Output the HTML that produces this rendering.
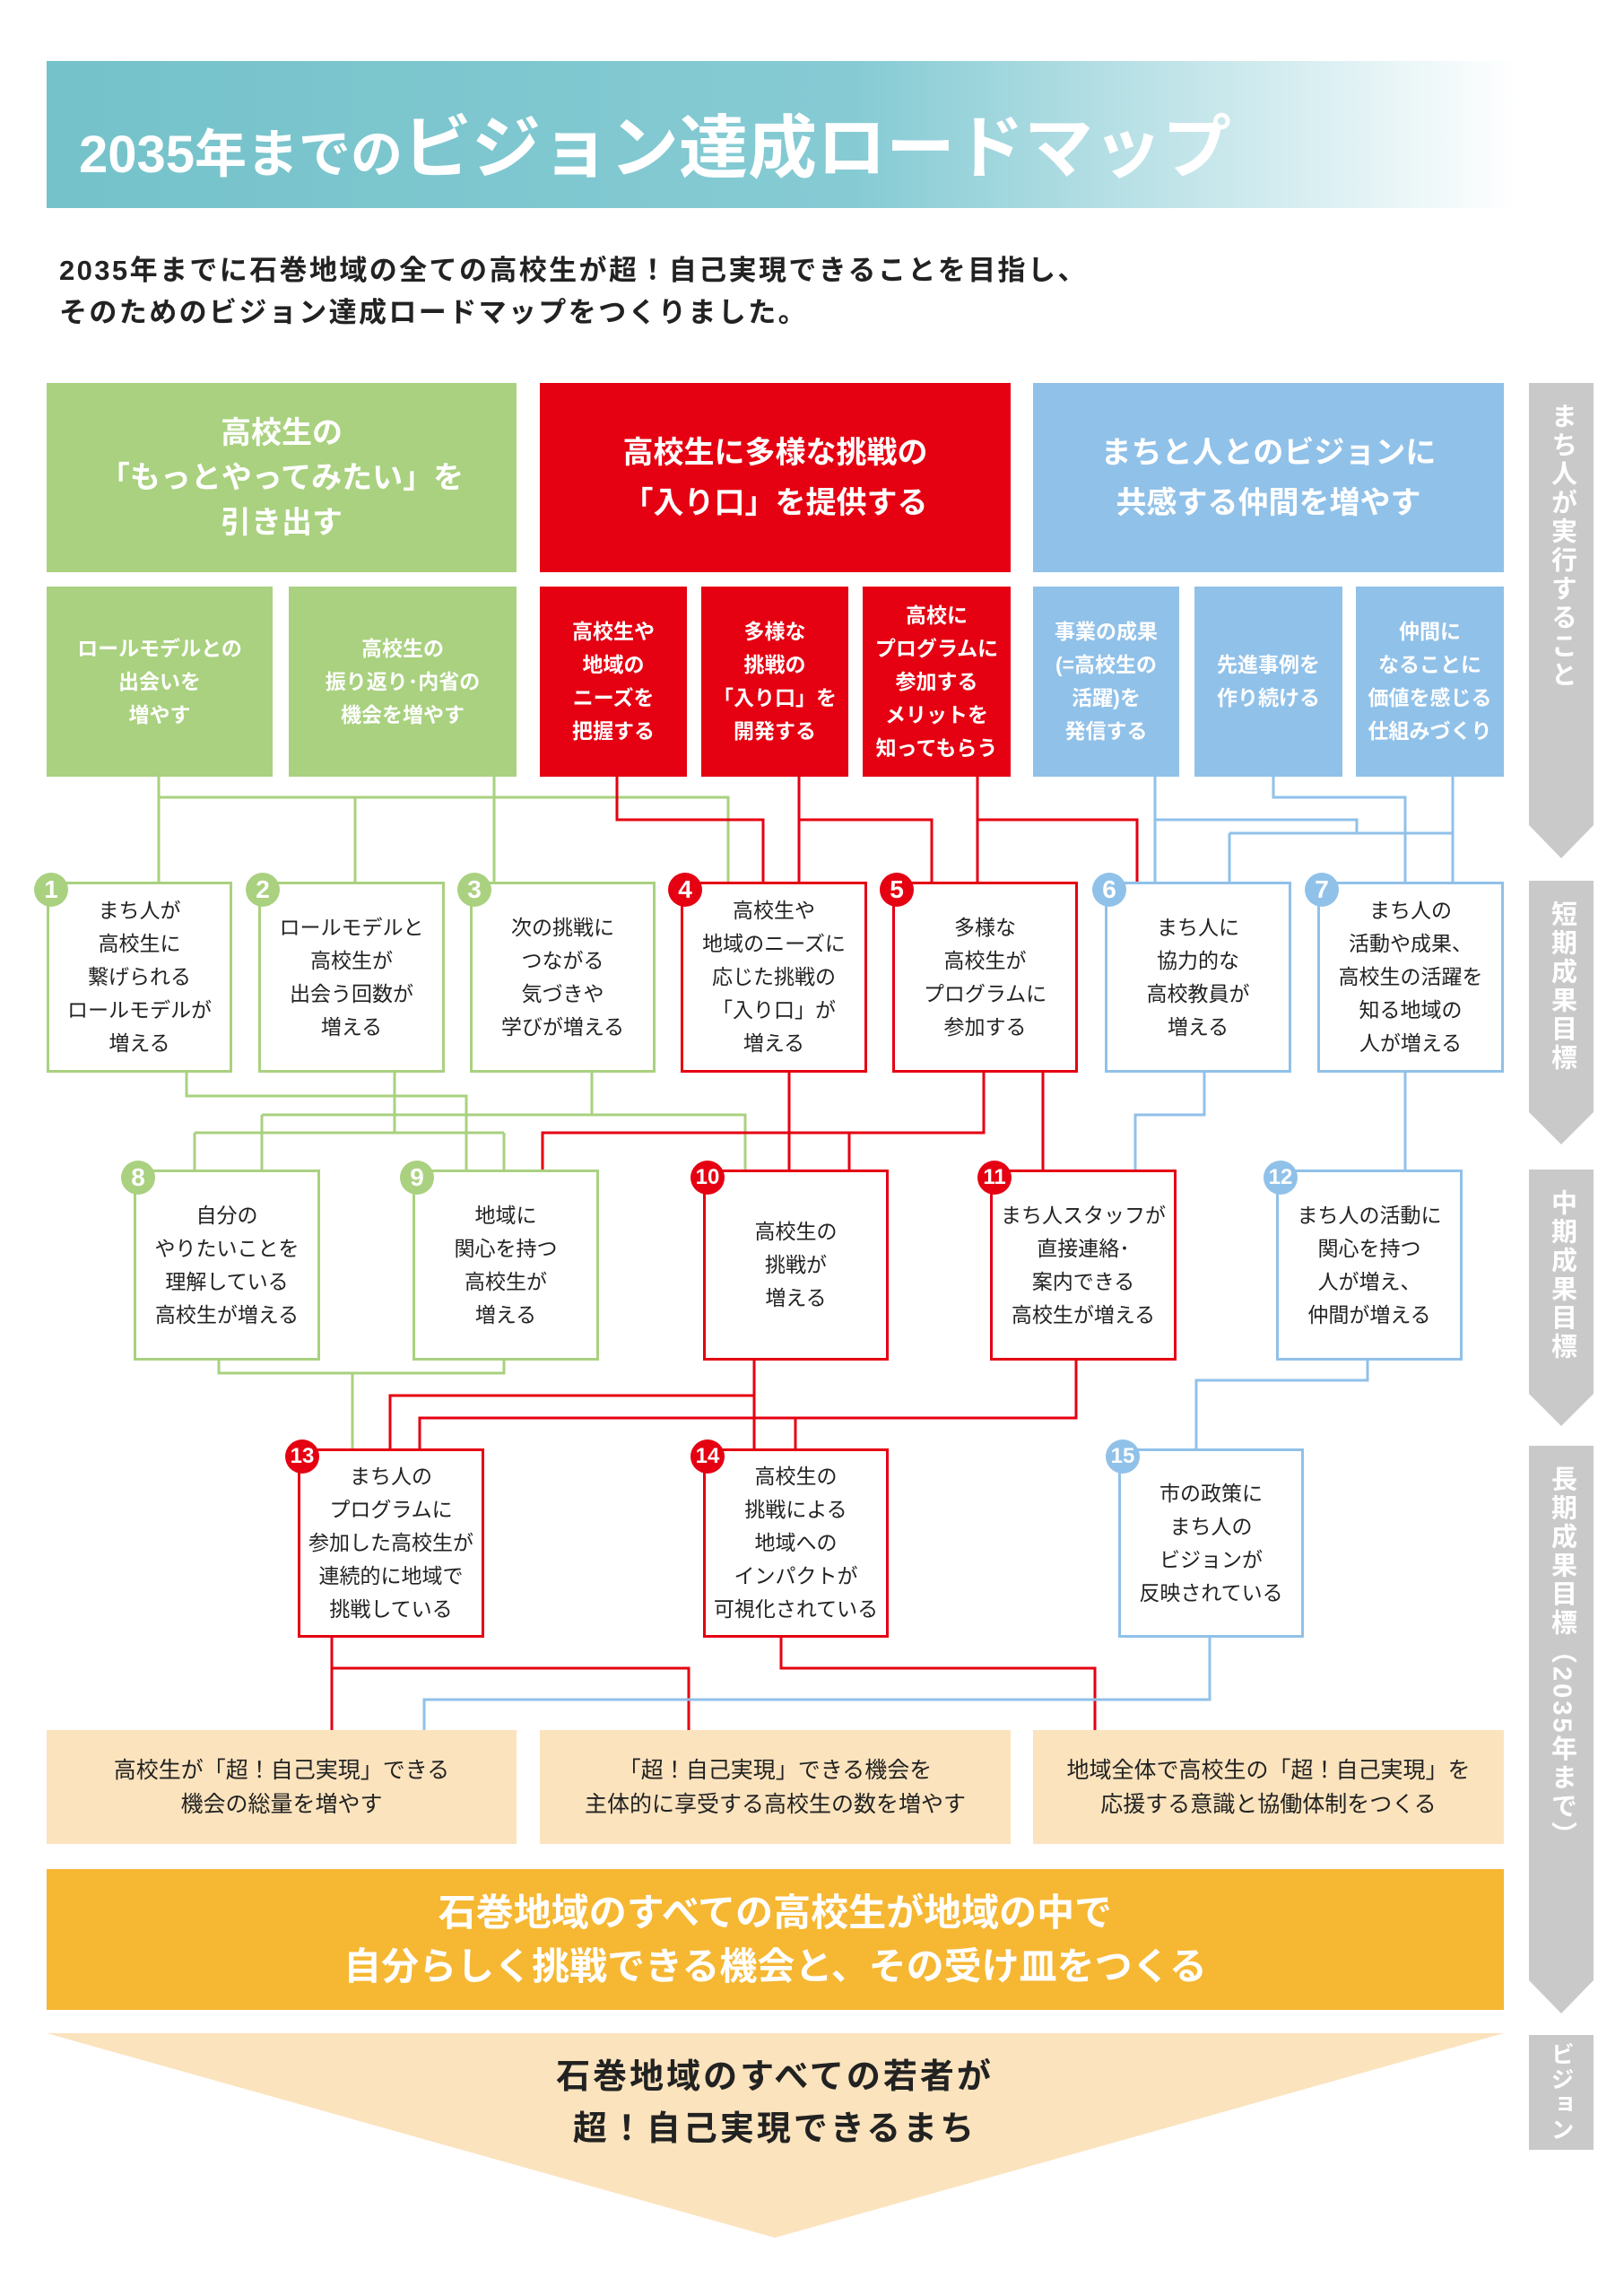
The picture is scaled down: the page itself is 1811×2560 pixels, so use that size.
<!DOCTYPE html>
<html><head><meta charset="utf-8"><style>
*{margin:0;padding:0;box-sizing:border-box}
body{width:1811px;height:2560px;background:#fff;position:relative;overflow:hidden;font-family:"Liberation Sans","Noto Sans CJK JP",sans-serif;color:#222}
.a{position:absolute;display:flex;align-items:center;justify-content:center;text-align:center}
.cat{color:#fff;font-weight:bold;font-size:34px;line-height:50px}
.sub{color:#fff;font-weight:bold;font-size:23px;line-height:37px}
.bx{background:#fff;border:3px solid;font-size:23px;line-height:37px;color:#222}
.g{border-color:#a9d17f}.r{border-color:#e50012}.b{border-color:#90c1e9}
.bd{position:absolute;width:38px;height:38px;border-radius:50%;color:#fff;font-weight:bold;font-size:28px;display:flex;align-items:center;justify-content:center}
.bot{background:#fbe3bd;font-size:25px;line-height:38px;color:#222}
.side{position:absolute;left:1705px;width:72px;display:flex;justify-content:center;padding-top:22px}
.side span{writing-mode:vertical-rl;color:#fff;font-size:29px;font-weight:bold;letter-spacing:3px;line-height:1;white-space:nowrap}
</style></head><body>
<svg width="1811" height="2560" style="position:absolute;left:0;top:0">
<defs><linearGradient id="tg" x1="0" x2="1"><stop offset="0" stop-color="#75c2ca"/><stop offset="0.55" stop-color="#86cbd4"/><stop offset="1" stop-color="#ffffff"/></linearGradient></defs>
<rect x="52" y="68" width="1640" height="164" fill="url(#tg)"/>
<g fill="#c9c9c9">
<polygon points="1705,427 1777,427 1777,920 1741,957 1705,920"/>
<polygon points="1705,982 1777,982 1777,1240 1741,1276 1705,1240"/>
<polygon points="1705,1304 1777,1304 1777,1554 1741,1590 1705,1554"/>
<polygon points="1705,1612 1777,1612 1777,2208 1741,2245 1705,2208"/>
<rect x="1705" y="2269" width="72" height="128"/>
</g>
<polygon points="52,2267 1677,2267 864,2495" fill="#fbe3bd"/>
<g fill="none" stroke-width="3">
<g stroke="#a9d17f">
<path d="M177,866V983 M177,889H812V983 M396,889V983 M551,866V983"/>
<path d="M208,1196V1222H520V1304 M440,1196V1263 M660,1196V1243 M292,1243H831V1304 M292,1243V1304 M217,1263H562 M217,1263V1304 M562,1263V1304"/>
<path d="M244,1517V1531H562V1517 M393,1531V1615"/>
</g>
<g stroke="#e50012">
<path d="M688,866V914H851V983 M891,866V983 M891,914H1039V983 M1090,866V983 M1090,914H1268V983"/>
<path d="M880,1196V1304 M1097,1196V1263H605V1304 M947,1263V1304 M1163,1196V1304"/>
<path d="M841,1517V1615 M841,1556H435V1615 M1200,1517V1581H468V1615 M887,1581V1615"/>
<path d="M370,1826V1929 M370,1860H768V1929 M871,1826V1860H1221V1929"/>
</g>
<g stroke="#90c1e9">
<path d="M1288,866V983 M1420,866V889H1567V983 M1288,914H1513V929 M1371,929H1620 M1371,929V983 M1620,866V983"/>
<path d="M1343,1196V1243H1266V1304 M1567,1196V1304"/>
<path d="M1525,1517V1539H1334V1615"/>
<path d="M1349,1826V1895H473V1929"/>
</g>
</g>
</svg>
<div style="position:absolute;left:88px;top:104px;color:#fff;font-weight:bold;white-space:nowrap"><span style="font-size:58px">2035年までの</span><span style="font-size:77px">ビジョン達成ロードマップ</span></div>
<div style="position:absolute;left:66px;top:278px;font-size:31px;letter-spacing:2.4px;font-weight:bold;line-height:47px;color:#222;white-space:nowrap">2035年までに石巻地域の全ての高校生が超！自己実現できることを目指し、<br>そのためのビジョン達成ロードマップをつくりました。</div>

<div class="a cat" style="left:52px;top:427px;width:524px;height:211px;background:#a9d17f">高校生の<br>「もっとやってみたい」を<br>引き出す</div>
<div class="a cat" style="left:602px;top:427px;width:525px;height:211px;background:#e50012;line-height:56px">高校生に多様な挑戦の<br>「入り口」を提供する</div>
<div class="a cat" style="left:1152px;top:427px;width:525px;height:211px;background:#90c1e9;line-height:56px">まちと人とのビジョンに<br>共感する仲間を増やす</div>

<div class="a sub" style="left:52px;top:654px;width:252px;height:212px;background:#a9d17f">ロールモデルとの<br>出会いを<br>増やす</div>
<div class="a sub" style="left:322px;top:654px;width:254px;height:212px;background:#a9d17f">高校生の<br>振り返り･内省の<br>機会を増やす</div>
<div class="a sub" style="left:602px;top:654px;width:164px;height:212px;background:#e50012">高校生や<br>地域の<br>ニーズを<br>把握する</div>
<div class="a sub" style="left:782px;top:654px;width:164px;height:212px;background:#e50012">多様な<br>挑戦の<br>「入り口」を<br>開発する</div>
<div class="a sub" style="left:962px;top:654px;width:165px;height:212px;background:#e50012">高校に<br>プログラムに<br>参加する<br>メリットを<br>知ってもらう</div>
<div class="a sub" style="left:1152px;top:654px;width:163px;height:212px;background:#90c1e9">事業の成果<br>(=高校生の<br>活躍)を<br>発信する</div>
<div class="a sub" style="left:1332px;top:654px;width:165px;height:212px;background:#90c1e9">先進事例を<br>作り続ける</div>
<div class="a sub" style="left:1512px;top:654px;width:165px;height:212px;background:#90c1e9">仲間に<br>なることに<br>価値を感じる<br>仕組みづくり</div>

<div class="a bx g" style="left:52px;top:983px;width:207px;height:213px">まち人が<br>高校生に<br>繋げられる<br>ロールモデルが<br>増える</div>
<div class="a bx g" style="left:288px;top:983px;width:208px;height:213px">ロールモデルと<br>高校生が<br>出会う回数が<br>増える</div>
<div class="a bx g" style="left:524px;top:983px;width:207px;height:213px">次の挑戦に<br>つながる<br>気づきや<br>学びが増える</div>
<div class="a bx r" style="left:759px;top:983px;width:208px;height:213px">高校生や<br>地域のニーズに<br>応じた挑戦の<br>「入り口」が<br>増える</div>
<div class="a bx r" style="left:995px;top:983px;width:207px;height:213px">多様な<br>高校生が<br>プログラムに<br>参加する</div>
<div class="a bx b" style="left:1232px;top:983px;width:208px;height:213px">まち人に<br>協力的な<br>高校教員が<br>増える</div>
<div class="a bx b" style="left:1469px;top:983px;width:208px;height:213px">まち人の<br>活動や成果、<br>高校生の活躍を<br>知る地域の<br>人が増える</div>

<div class="a bx g" style="left:149px;top:1304px;width:208px;height:213px">自分の<br>やりたいことを<br>理解している<br>高校生が増える</div>
<div class="a bx g" style="left:460px;top:1304px;width:208px;height:213px">地域に<br>関心を持つ<br>高校生が<br>増える</div>
<div class="a bx r" style="left:784px;top:1304px;width:207px;height:213px">高校生の<br>挑戦が<br>増える</div>
<div class="a bx r" style="left:1104px;top:1304px;width:208px;height:213px">まち人スタッフが<br>直接連絡･<br>案内できる<br>高校生が増える</div>
<div class="a bx b" style="left:1423px;top:1304px;width:208px;height:213px">まち人の活動に<br>関心を持つ<br>人が増え、<br>仲間が増える</div>

<div class="a bx r" style="left:332px;top:1615px;width:208px;height:211px">まち人の<br>プログラムに<br>参加した高校生が<br>連続的に地域で<br>挑戦している</div>
<div class="a bx r" style="left:784px;top:1615px;width:207px;height:211px">高校生の<br>挑戦による<br>地域への<br>インパクトが<br>可視化されている</div>
<div class="a bx b" style="left:1247px;top:1615px;width:207px;height:211px">市の政策に<br>まち人の<br>ビジョンが<br>反映されている</div>

<div class="bd" style="left:38px;top:973px;background:#a9d17f">1</div>
<div class="bd" style="left:274px;top:973px;background:#a9d17f">2</div>
<div class="bd" style="left:510px;top:973px;background:#a9d17f">3</div>
<div class="bd" style="left:745px;top:973px;background:#e50012">4</div>
<div class="bd" style="left:981px;top:973px;background:#e50012">5</div>
<div class="bd" style="left:1218px;top:973px;background:#90c1e9">6</div>
<div class="bd" style="left:1455px;top:973px;background:#90c1e9">7</div>
<div class="bd" style="left:135px;top:1294px;background:#a9d17f">8</div>
<div class="bd" style="left:446px;top:1294px;background:#a9d17f">9</div>
<div class="bd" style="left:770px;top:1294px;background:#e50012;font-size:24px">10</div>
<div class="bd" style="left:1090px;top:1294px;background:#e50012;font-size:24px">11</div>
<div class="bd" style="left:1409px;top:1294px;background:#90c1e9;font-size:24px">12</div>
<div class="bd" style="left:318px;top:1605px;background:#e50012;font-size:24px">13</div>
<div class="bd" style="left:770px;top:1605px;background:#e50012;font-size:24px">14</div>
<div class="bd" style="left:1233px;top:1605px;background:#90c1e9;font-size:24px">15</div>

<div class="a bot" style="left:52px;top:1929px;width:524px;height:127px">高校生が「超！自己実現」できる<br>機会の総量を増やす</div>
<div class="a bot" style="left:602px;top:1929px;width:525px;height:127px">「超！自己実現」できる機会を<br>主体的に享受する高校生の数を増やす</div>
<div class="a bot" style="left:1152px;top:1929px;width:525px;height:127px">地域全体で高校生の「超！自己実現」を<br>応援する意識と協働体制をつくる</div>

<div class="a" style="left:52px;top:2084px;width:1625px;height:157px;background:#f6b733;color:#fff;font-weight:bold;font-size:42px;line-height:60px">石巻地域のすべての高校生が地域の中で<br>自分らしく挑戦できる機会と、その受け皿をつくる</div>
<div class="a" style="left:300px;top:2285px;width:1128px;height:120px;font-weight:bold;font-size:38px;line-height:58px;color:#222;letter-spacing:3px">石巻地域のすべての若者が<br>超！自己実現できるまち</div>

<div class="side" style="top:427px;height:500px"><span>まち人が実行すること</span></div>
<div class="side" style="top:982px;height:260px"><span>短期成果目標</span></div>
<div class="side" style="top:1304px;height:260px"><span>中期成果目標</span></div>
<div class="side" style="top:1612px;height:600px"><span>長期成果目標（2035年まで）</span></div>
<div class="side" style="top:2269px;height:128px;padding-top:8px"><span style="font-size:26px;letter-spacing:2px">ビジョン</span></div>
</body></html>
